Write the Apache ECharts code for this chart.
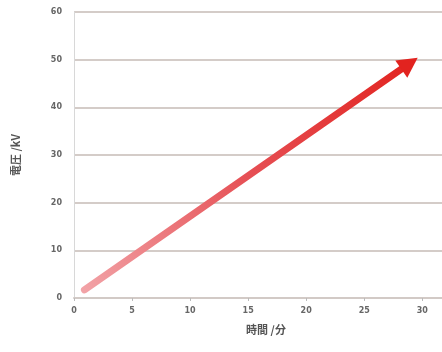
<!DOCTYPE html>
<html><head><meta charset="utf-8">
<script src="https://cdn.jsdelivr.net/npm/echarts@6/dist/echarts.min.js"></script>
<style>html,body{margin:0;padding:0;background:#fff}#c{width:442px;height:352px}</style>
</head><body><div id="c"></div>
<script>
const xTimes = [0.9, 28.9];
const yVolts = [1.7, 49.2];
const xName = '時間 /分';
const yName = '電圧 /kV';
const chart = echarts.init(document.getElementById('c'));
function build(rot) {
  return {
    animation: false,
    grid: {left: 74, right: 0, top: 12, bottom: 54},
    xAxis: {
      type: 'value', min: 0, max: 31.7, interval: 5,
      name: xName, nameLocation: 'middle', nameGap: 26,
      nameTextStyle: {fontFamily: 'Noto Sans CJK JP', fontSize: 11, fontWeight: 'bold', color: '#555', padding: [0, 0, 0, 16]},
      axisLine: {lineStyle: {color: '#d2cac6', width: 2}},
      axisTick: {show: true, length: 3, lineStyle: {color: '#bbb'}},
      axisLabel: {fontSize: 8, fontWeight: 'bold', color: '#666', margin: 9, showMaxLabel: false, fontFamily: 'DejaVu Sans'},
      splitLine: {show: false}
    },
    yAxis: {
      type: 'value', min: 0, max: 60, interval: 10,
      name: yName, nameLocation: 'middle', nameGap: 53, nameRotate: 90,
      nameTextStyle: {fontFamily: 'Noto Sans CJK JP', fontSize: 11, fontWeight: 'bold', color: '#555'},
      axisLine: {show: true, lineStyle: {color: '#d8d8d8', width: 1}},
      axisTick: {show: false},
      axisLabel: {fontSize: 8, fontWeight: 'bold', color: '#666', margin: 12, fontFamily: 'DejaVu Sans'},
      splitLine: {lineStyle: {color: '#d4ccc8', width: 2}}
    },
    series: [{
      type: 'line',
      data: [
        {value: [xTimes[0], yVolts[0]], symbol: 'none'},
        {value: [xTimes[1], yVolts[1]], symbol: 'triangle', symbolSize: [21, 20], symbolRotate: rot,
         itemStyle: {color: '#e2231f'}}
      ],
      showSymbol: true,
      lineStyle: {
        width: 7,
        cap: 'round',
        color: new echarts.graphic.LinearGradient(0, 1, 1, 0, [
          {offset: 0, color: '#f2a4a8'},
          {offset: 0.5, color: '#e65055'},
          {offset: 1, color: '#e2231f'}
        ])
      }
    }]
  };
}
chart.setOption(build(0));
const p0 = chart.convertToPixel({gridIndex: 0}, [xTimes[0], yVolts[0]]);
const p1 = chart.convertToPixel({gridIndex: 0}, [xTimes[1], yVolts[1]]);
const ang = Math.atan2(p0[1] - p1[1], p1[0] - p0[0]) * 180 / Math.PI;
chart.setOption(build(ang - 90));
</script></body></html>
